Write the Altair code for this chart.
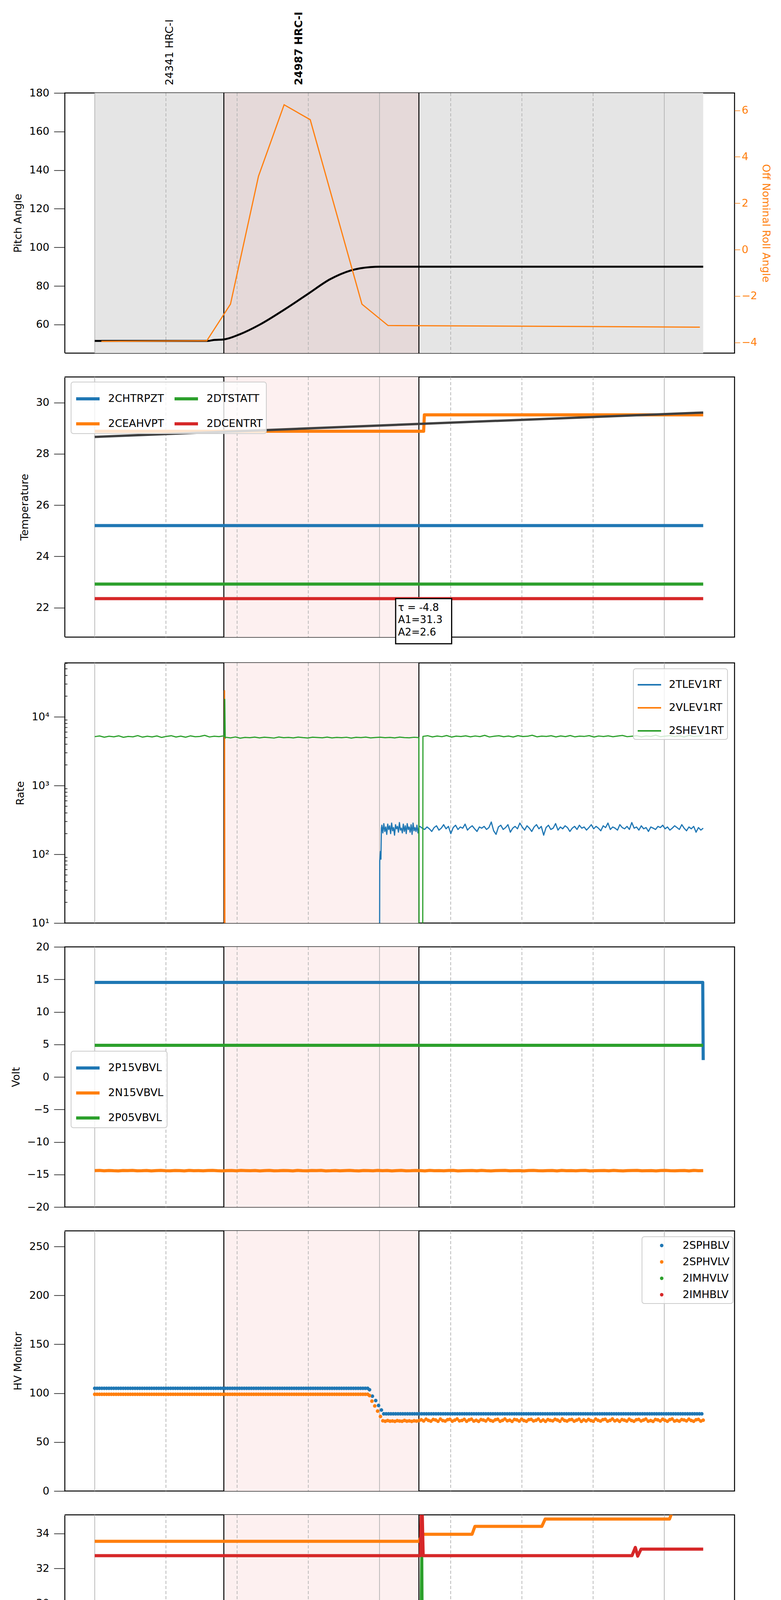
import altair as alt
import numpy as np
import pandas as pd

FONT = "DejaVu Sans"
BLUE, ORANGE, GREEN, RED = "#1f77b4", "#ff7f0e", "#2ca02c", "#d62728"
PANEL_W, PANEL_H = 1715, 666

# time in minutes after 2021-05-01 00:00
T_DOMAIN = [-6.3, 134.8]
T_END = 128.2
OBS_EDGES = [27.2, 68.3]
HOUR_TICKS = [0, 60, 120]
QUARTER_TICKS = [15, 30, 45, 75, 90, 105]
QUARTER_LABELS = ["15", "30", "45", "15", "30", "45"]

OBSIDS = ["24341 HRC-I", "24987 HRC-I"]
OBSID_T = [15.8, 43.1]

# ---- pitch / roll
PITCH_T = [0, 23.8, 25.0, 27.2, 30.6, 34.8, 40.1, 45.0, 49.6, 53.9, 58.1, 60.2, 128.2]
PITCH_V = [51.5, 51.5, 52.0, 52.3, 55.0, 60.0, 68.0, 76.0, 83.5, 88.0, 89.8, 90.0, 90.0]
ROLL_T = [1.4, 23.6, 28.6, 34.5, 39.9, 45.4, 56.3, 61.8, 127.5]
ROLL_V = [-3.95, -3.93, -2.35, 3.16, 6.24, 5.6, -2.35, -3.27, -3.34]

# ---- temperature
TEMP_NAMES = ["2CHTRPZT", "2CEAHVPT", "2DTSTATT", "2DCENTRT"]
TEMP_T = [[0, 128.2], [0, 69.3, 69.45, 128.2], [0, 128.2], [0, 128.2]]
TEMP_V = [[25.2, 25.2], [28.88, 28.88, 29.52, 29.52], [22.92, 22.92], [22.35, 22.35]]
FIT_T = [0, 128.2]
FIT_V = [28.66, 29.61]
FIT_TEXT = ["τ = -4.8", "A1=31.3", "A2=2.6"]

# ---- rates
RATE_NAMES = ["2TLEV1RT", "2VLEV1RT", "2SHEV1RT"]
SHEV_A = [5150, 5280, 5060, 5220, 5120, 5300, 5040, 5190, 5130, 5340, 5070, 5230, 5110, 5280,
          5020, 5200, 5320, 5090, 5240, 5060, 5290, 5140, 5190, 5380, 5100, 5230, 5160, 5290]
SHEV_SPIKE_T = [27.3, 27.4, 27.5]
SHEV_SPIKE_V = [5200, 18000, 4900]
SHEV_B = [5050, 4950, 5100, 4900, 5020, 4980, 5080, 4940, 5060, 5000, 4920, 5090, 4970, 5030,
          4950, 5070, 4990, 4930, 5060, 5010, 4960, 5080, 4940, 5020, 4980, 5050, 4910, 5040,
          4990, 5070, 4950, 5010, 5060, 4970, 5030, 4940, 5080, 5000, 4960, 5050, 4990]
SHEV_GAP_T = [68.35, 69.1]
SHEV_GAP_V = [1, 1]
SHEV_C = [5200, 5320, 5110, 5260, 5150, 5350, 5080, 5240, 5180, 5300, 5120, 5270, 5160, 5380,
          5100, 5230, 5310, 5140, 5260, 5090, 5330, 5170, 5220, 5400, 5130, 5250, 5190, 5310,
          5110, 5280, 5160, 5350, 5120, 5240, 5200, 5330, 5090, 5270, 5180, 5300, 5140, 5260,
          5370, 5150, 5230, 5310, 5120, 5280, 5190, 5420, 5140, 5250, 5330, 5170, 5290, 5110,
          5360, 5200, 5260, 5310]
VLEV_T = [0, 27.3, 27.35, 27.45, 128.2]
VLEV_V = [1, 1, 24000, 1, 1]
TLEV_START_T = [60.0, 60.05, 60.2, 60.3, 60.4]
TLEV_START_V = [1, 80, 110, 85, 240]
TLEV_DENSE = [265, 205, 280, 215, 250, 195, 275, 230, 260, 200, 285, 220, 245, 190, 270, 235,
              255, 210, 290, 225, 240, 205, 275, 215, 260, 200, 280, 230, 250, 210, 270, 195,
              285, 220, 245, 215, 265, 205, 250]
TLEV_LATE = [255, 240, 230, 250, 235, 215, 245, 260, 225, 240, 270, 235, 255, 200, 245, 265,
             230, 250, 240, 275, 225, 245, 260, 235, 215, 250, 240, 255, 230, 245, 295, 220,
             195, 250, 265, 230, 245, 270, 210, 240, 255, 235, 285, 250, 225, 260, 240, 215,
             250, 270, 235, 255, 190, 245, 265, 230, 240, 280, 225, 250, 235, 260, 245, 215,
             240, 255, 230, 265, 240, 250, 225, 245, 270, 235, 255, 240, 220, 260, 245, 285,
             230, 250, 240, 225, 270, 245, 235, 255, 230, 290, 240, 250, 225, 260, 235, 245,
             215, 250, 240, 230, 255, 245, 265, 235, 250, 225, 240, 260, 245, 230, 270, 240,
             220, 250, 235, 255, 210, 245, 225, 240]

# ---- voltages
VOLT_NAMES = ["2P15VBVL", "2N15VBVL", "2P05VBVL"]
P15_T = [0, 128.1, 128.2]
P15_V = [14.53, 14.53, 2.6]
P05_T = [0, 128.2]
P05_V = [4.87, 4.87]
N15_V = [-14.40, -14.37, -14.43, -14.38, -14.42, -14.44, -14.38, -14.40, -14.37, -14.43,
         -14.42, -14.38, -14.44, -14.40, -14.37, -14.42, -14.43, -14.38, -14.40, -14.44,
         -14.37, -14.42, -14.40, -14.43, -14.38, -14.37, -14.42, -14.44, -14.40, -14.38,
         -14.43, -14.37, -14.40, -14.42, -14.38, -14.44, -14.40, -14.37, -14.43, -14.42,
         -14.38, -14.40, -14.44, -14.37, -14.42, -14.43, -14.38, -14.40, -14.37, -14.44,
         -14.42, -14.38, -14.43, -14.40, -14.37, -14.42, -14.44, -14.38, -14.40, -14.43,
         -14.37, -14.42, -14.38, -14.44, -14.40, -14.37, -14.43, -14.42, -14.38, -14.40,
         -14.44, -14.37, -14.42, -14.40, -14.43, -14.38, -14.37, -14.44, -14.42, -14.40,
         -14.38, -14.43, -14.37, -14.42, -14.44, -14.40, -14.38, -14.37, -14.43, -14.42,
         -14.40, -14.44, -14.38, -14.37, -14.42, -14.43, -14.40, -14.38, -14.44, -14.37,
         -14.42, -14.40, -14.43, -14.38, -14.37, -14.44, -14.42, -14.40, -14.38, -14.43,
         -14.37, -14.42, -14.44, -14.40, -14.38, -14.37, -14.43, -14.42, -14.40, -14.44,
         -14.38, -14.37, -14.42, -14.43, -14.40, -14.38, -14.44, -14.37, -14.42, -14.40]

# ---- HV monitors (sampled every 30 s)
HV_NAMES = ["2SPHBLV", "2SPHVLV", "2IMHVLV", "2IMHBLV"]
HV_PRE_T = list(np.arange(0, 57.6, 0.5))
HV_POST_T = list(np.arange(60.9, 128.3, 0.5))
SPHBLV_PRE, SPHBLV_POST = 105.0, 78.9
SPHBLV_DROP_T = [57.9, 58.5, 59.2, 59.8, 60.4]
SPHBLV_DROP_V = [103.5, 97.0, 92.5, 87.5, 82.8]
SPHVLV_PRE = 98.9
SPHVLV_DROP_T = [57.9, 58.4, 59.0, 59.6, 60.2]
SPHVLV_DROP_V = [97.6, 91.9, 87.0, 81.7, 76.2]
SPHVLV_DENSE = [71.8, 71.3, 72.0, 71.4, 71.6, 71.2, 71.9, 71.5, 71.3, 72.1, 71.4, 71.7, 71.2,
                71.8, 71.5, 71.9]
SPHVLV_LATE = [72.8, 71.6, 73.4, 72.2, 71.4, 73.1, 72.6, 71.3, 73.5, 72.0, 71.5, 72.9, 73.3,
               71.4, 72.4, 73.6, 71.7, 72.1, 73.2, 71.3, 72.7, 73.4, 71.5, 72.3, 71.2, 73.0,
               72.5, 71.6, 73.5, 72.1, 71.4, 72.8, 73.3, 71.3, 72.2, 73.6, 71.8, 72.4, 71.2,
               73.1, 72.7, 71.5, 73.4, 72.0, 71.3, 72.9, 73.2, 71.6, 72.3, 73.5, 71.4, 72.6,
               71.2, 73.0, 72.2, 71.7, 73.3, 72.5, 71.3, 73.6, 72.1, 71.5, 72.8, 73.1, 71.4,
               72.4, 73.4, 71.2, 72.7, 71.6, 73.2, 72.0, 71.3, 73.5, 72.3, 71.5, 72.9, 73.3,
               71.4, 72.2, 73.6, 71.7, 72.6, 71.2, 73.0, 72.4, 71.5, 73.4, 72.1, 71.3, 72.8,
               73.2, 71.6, 72.5, 73.5, 71.4, 72.0, 71.2, 73.1, 72.7, 71.6, 73.3, 72.3, 71.3,
               72.9, 73.6, 71.5, 72.2, 71.4, 73.0, 72.6, 71.7, 73.4, 72.1, 71.3, 72.8, 73.2,
               71.5, 72.4]

# ---- detector temperatures
DET_NAMES = ["2SPINATM", "2SPHVATM", "2IMINATM", "2IMHVATM"]
SPINATM_T = [0, 48.4, 48.6, 48.8, 54.2, 54.4, 54.6, 56.0, 56.2, 56.4, 56.6, 56.8, 57.2, 57.4,
             58.9, 59.1, 59.4, 59.7, 60.0, 60.2, 60.5, 60.7, 60.9, 61.3, 61.5, 61.7, 62.2, 62.4,
             62.6, 63.0, 63.2, 63.6, 63.8, 64.0, 64.3, 64.6, 64.9, 65.2, 65.5, 66.0, 66.2, 66.4,
             66.7, 66.9, 67.1, 128.2]
SPINATM_V = [21.7, 21.7, 22.4, 21.7, 21.7, 22.4, 21.7, 21.7, 22.4, 21.7, 22.4, 21.7, 22.4, 21.7,
             21.7, 22.4, 21.7, 22.4, 21.7, 22.4, 22.4, 21.7, 22.4, 22.4, 21.7, 22.4, 22.4, 21.7,
             22.4, 21.7, 22.4, 22.4, 21.7, 22.4, 21.7, 22.4, 21.7, 22.4, 21.7, 21.7, 22.4, 21.7,
             22.4, 21.7, 22.4, 22.4]
SPHVATM_T = [0, 68.3, 69.0, 79.5, 80.1, 94.2, 94.9, 121.1, 121.9, 128.2]
SPHVATM_V = [33.55, 33.55, 33.95, 33.95, 34.4, 34.4, 34.82, 34.82, 35.4, 35.4]
IMINATM_T = [0, 0.3, 0.7, 1.1, 1.6, 2.3, 2.9, 65.5, 65.7, 65.9, 66.1, 66.4, 66.7, 67.0, 67.3,
             67.6, 67.9, 68.2, 68.5, 68.9, 69.1, 69.7, 70.2, 70.6, 70.9, 71.3, 71.8, 72.3, 73.7,
             74.1, 74.5, 77.5, 77.9, 78.3, 80.7, 81.1, 81.5, 128.2]
IMINATM_V = [23.15, 23.15, 22.4, 23.15, 23.15, 22.4, 23.15, 23.15, 22.4, 23.15, 22.4, 23.15,
             22.4, 23.15, 22.4, 23.15, 22.4, 23.15, 22.4, 32.6, 22.4, 22.4, 23.15, 22.4, 23.15,
             22.4, 23.15, 22.4, 22.4, 23.15, 22.4, 22.4, 23.15, 22.4, 22.4, 23.15, 22.4, 22.4]
IMHVATM_T = [0, 68.6, 68.9, 69.2, 113.2, 113.9, 114.4, 115.1, 128.2]
IMHVATM_V = [32.73, 32.73, 36.5, 32.73, 32.73, 33.2, 32.7, 33.1, 33.1]

# ---- FEA temperatures
FEA_NAMES = ["2FHTRMZT", "2FRADPYT", "2FEPRATM", "2FE00ATM"]
FHTRMZT_T = [0, 1.6, 1.9, 2.2, 35.9, 36.3, 128.2]
FHTRMZT_V = [25.2, 25.2, 24.6, 25.2, 25.2, 24.62, 24.62]
FRADPYT_T = [0, 45.0, 45.3, 69.6, 69.9, 128.2]
FRADPYT_V = [19.69, 19.69, 19.17, 19.17, 19.69, 19.69]
FEPRATM_T = [0, 68.9, 69.05, 69.2, 128.2]
FEPRATM_V = [26.16, 26.16, 28.5, 26.16, 26.16]
FE00ATM_T = [0, 63.7, 63.9, 64.1, 68.6, 68.85, 69.1, 75.3, 75.7, 76.1, 91.6, 92.1, 92.6, 93.7,
             94.2, 94.7, 95.2, 96.9, 97.5, 98.1, 128.2]
FE00ATM_V = [24.28, 24.28, 24.65, 24.28, 24.28, 28.5, 24.28, 24.28, 24.99, 24.28, 24.28, 23.95,
             24.28, 24.28, 23.95, 24.28, 23.95, 23.95, 24.28, 23.95, 23.95]

TAB4 = [BLUE, ORANGE, GREEN, RED]
x_scale = alt.Scale(domain=T_DOMAIN, nice=False, zero=False)


def series_df(names, ts, vs):
    rows = []
    for name, t, v in zip(names, ts, vs):
        rows += [{"t": float(a), "v": float(b), "name": name} for a, b in zip(t, v)]
    return pd.DataFrame(rows)


def spread(t0, t1, values):
    return list(np.linspace(t0, t1, len(values)))


def xenc(field="t", axis=None):
    return alt.X(f"{field}:Q", scale=x_scale, axis=axis, title=None)


def y_axis(values, title, edges=(), **kw):
    opts = dict(values=values, title=title, grid=False, domain=False, tickSize=28, tickWidth=1.5,
                tickColor="black", labelFontSize=27, labelPadding=12, labelColor="black",
                titleFontSize=27, titleFontWeight="normal", titlePadding=14, titleColor="black")
    if edges:
        # blank ticks at the panel edges so every panel reserves the same room around it
        test = " || ".join(f"datum.value == {e}" for e in edges)
        hide = {"condition": {"test": test, "value": "white"}, "value": "black"}
        opts.update(values=values + list(edges), labelColor=hide, tickColor=hide)
    opts.update(kw)
    return alt.Axis(**opts)


def hour_axis(labels=False):
    opts = dict(values=HOUR_TICKS, orient="bottom", domain=False, grid=False, tickSize=29,
                tickWidth=2, tickColor="black", labels=labels)
    if labels:
        opts.update(labelExpr="'0' + (datum.value / 60) + 'h'", labelFontSize=27,
                    labelPadding=5, labelColor="black", title="2021-05-01 (121)",
                    titleFontSize=31, titleFontWeight="normal", titlePadding=6,
                    titleColor="black")
    return alt.Axis(**opts)


def legend(x, y, kind="stroke", columns=1, stroke_w=8):
    opts = dict(orient="none", legendX=x, legendY=y, title=None, labelFontSize=27,
                labelColor="black", labelFont=FONT, fillColor="rgba(255,255,255,0.8)",
                strokeColor="#cccccc", cornerRadius=6, padding=9,
                rowPadding=14, columns=columns)
    if kind == "stroke":
        opts.update(symbolType="stroke", symbolSize=3600, symbolStrokeWidth=stroke_w,
                    labelOffset=18)
    else:
        opts.update(symbolType="circle", symbolSize=80, symbolStrokeWidth=0,
                    symbolOffset=28, labelOffset=40)
    return alt.Legend(**opts)


def backdrop(shade, x_axis=None, gray=False):
    layers = []
    if gray:
        layers.append(alt.Chart(pd.DataFrame({"a": [0.0], "b": [T_END]}))
                      .mark_rect(color="#e5e5e5").encode(x=xenc("a"), x2="b:Q"))
    layers.append(alt.Chart(pd.DataFrame({"a": [OBS_EDGES[0]], "b": [OBS_EDGES[1]]}))
                  .mark_rect(color=shade).encode(x=xenc("a"), x2="b:Q"))
    layers.append(alt.Chart(pd.DataFrame({"t": QUARTER_TICKS}))
                  .mark_rule(color="#b3b3b3", strokeWidth=1.8, strokeDash=[8, 5])
                  .encode(x=xenc("t")))
    layers.append(alt.Chart(pd.DataFrame({"t": HOUR_TICKS}))
                  .mark_rule(color="#b3b3b3", strokeWidth=1.8)
                  .encode(x=xenc("t", x_axis)))
    layers.append(alt.Chart(pd.DataFrame({"t": OBS_EDGES}))
                  .mark_rule(color="black", strokeWidth=2.5).encode(x=xenc("t")))
    return layers


def lines(df, names, y_scale, axis, leg, width=8, colors=TAB4):
    return alt.Chart(df).mark_line(strokeWidth=width, clip=True, strokeJoin="round").encode(
        x=xenc(),
        y=alt.Y("v:Q", scale=y_scale, axis=axis),
        color=alt.Color("name:N", scale=alt.Scale(domain=names, range=colors), legend=leg),
        detail="name:N",
    )


PINK = "#fdf0f0"

# ---- panel 1
pitch_scale = alt.Scale(domain=[45.2, 180], nice=False, zero=False)
pitch = alt.Chart(pd.DataFrame({"t": PITCH_T, "v": PITCH_V})).mark_line(
    color="black", strokeWidth=5, interpolate="monotone").encode(
    x=xenc(),
    y=alt.Y("v:Q", scale=pitch_scale,
            axis=y_axis([60, 80, 100, 120, 140, 160, 180], "Pitch Angle", edges=(45.2,),
                        format=".0f")))
roll = alt.Chart(pd.DataFrame({"t": ROLL_T, "v": ROLL_V})).mark_line(
    color=ORANGE, strokeWidth=3).encode(
    x=xenc(),
    y=alt.Y("v:Q", scale=alt.Scale(domain=[-4.46, 6.75], nice=False, zero=False),
            axis=y_axis([-4, -2, 0, 2, 4, 6], "Off Nominal Roll Angle", orient="right",
                        tickSize=14, labelPadding=4, titlePadding=8, tickColor=ORANGE,
                        labelColor=ORANGE, titleColor=ORANGE)))
# obsid labels sit just above the top of the pitch axis
obs_plain = alt.Chart(pd.DataFrame({"t": [OBSID_T[0]], "v": [184.0], "label": [OBSIDS[0]]})).mark_text(
    angle=270, align="left", baseline="middle", fontSize=27).encode(
    x=xenc(), y=alt.Y("v:Q", scale=pitch_scale, axis=None), text="label:N")
obs_bold = alt.Chart(pd.DataFrame({"t": [OBSID_T[1]], "v": [184.0], "label": [OBSIDS[1]]})).mark_text(
    angle=270, align="left", baseline="middle", fontSize=27, fontWeight="bold").encode(
    x=xenc(), y=alt.Y("v:Q", scale=pitch_scale, axis=None), text="label:N")
p1 = alt.layer(*backdrop("#e5d9d9", gray=True), pitch, obs_plain, obs_bold, roll).resolve_scale(
    y="independent").properties(width=PANEL_W, height=PANEL_H)

# ---- panel 2
temp_scale = alt.Scale(domain=[20.85, 31.0], nice=False, zero=False)
temp_axis = y_axis([22, 24, 26, 28, 30], "Temperature", edges=(31, 20.85), format=".0f")
temp_df = series_df(TEMP_NAMES, TEMP_T, TEMP_V)
temp_lines = lines(temp_df, TEMP_NAMES, temp_scale, temp_axis, legend(16, 13, columns=2))
fit = alt.Chart(pd.DataFrame({"t": FIT_T, "v": FIT_V})).mark_line(
    color="#3f3f3f", strokeWidth=6).encode(x=xenc(), y=alt.Y("v:Q", scale=temp_scale, axis=temp_axis))
box = alt.Chart(pd.DataFrame({"a": [63.4], "b": [75.2], "v": [22.35], "bot": [20.59]})).mark_rect(
    fill="white", stroke="black", strokeWidth=3).encode(
    x=xenc("a"), x2="b:Q", y=alt.Y("v:Q", scale=temp_scale, axis=temp_axis), y2="bot:Q")
box_text = alt.Chart(pd.DataFrame({"t": [63.9] * 3, "v": [22.0, 21.52, 21.04],
                                   "label": FIT_TEXT})).mark_text(
    align="left", baseline="middle", fontSize=26).encode(
    x=xenc(), y=alt.Y("v:Q", scale=temp_scale, axis=temp_axis), text="label:N")
p2 = alt.layer(*backdrop(PINK, hour_axis()), temp_lines, fit, box, box_text).properties(
    width=PANEL_W, height=PANEL_H)

# ---- panel 3
rate_scale = alt.Scale(type="log", domain=[10, 61000], nice=False)
rate_axis = y_axis([10, 100, 1000, 10000], "Rate", edges=(61000,),
                   labelExpr="datum.value == 10 ? '10¹' : datum.value == 100 ? '10²' : "
                             "datum.value == 1000 ? '10³' : '10⁴'")
tlev_t = TLEV_START_T + spread(60.5, 68.3, TLEV_DENSE) + spread(68.5, 128.2, TLEV_LATE)
tlev_v = TLEV_START_V + TLEV_DENSE + TLEV_LATE
shev_t = (spread(0, 27.2, SHEV_A) + SHEV_SPIKE_T + spread(27.6, 68.3, SHEV_B) + SHEV_GAP_T
          + spread(69.15, 128.2, SHEV_C))
shev_v = SHEV_A + SHEV_SPIKE_V + SHEV_B + SHEV_GAP_V + SHEV_C
rate_df = series_df(RATE_NAMES, [tlev_t, VLEV_T, shev_t], [tlev_v, VLEV_V, shev_v])
rate_lines = lines(rate_df, RATE_NAMES, rate_scale, rate_axis,
                   legend(1456, 15, stroke_w=4), width=3, colors=[BLUE, ORANGE, GREEN])
RATE_MINOR = [m * 10 ** e for e in range(1, 5) for m in range(2, 10) if m * 10 ** e < 61000]
rate_minor = alt.Chart(pd.DataFrame({"v": RATE_MINOR, "a": [T_DOMAIN[0]] * len(RATE_MINOR),
                                     "b": [T_DOMAIN[0] + 0.55] * len(RATE_MINOR)})).mark_rule(
    color="black", strokeWidth=1.5).encode(
    y=alt.Y("v:Q", scale=rate_scale, axis=rate_axis), x=xenc("a"), x2="b:Q")
p3 = alt.layer(*backdrop(PINK, hour_axis()), rate_lines, rate_minor).properties(
    width=PANEL_W, height=PANEL_H)

# ---- panel 4
volt_scale = alt.Scale(domain=[-20, 20], nice=False, zero=False)
volt_df = series_df(VOLT_NAMES, [P15_T, spread(0, 128.2, N15_V), P05_T], [P15_V, N15_V, P05_V])
volt_lines = lines(volt_df, VOLT_NAMES, volt_scale,
                   y_axis([-20, -15, -10, -5, 0, 5, 10, 15, 20], "Volt", format=".0f"),
                   legend(16, 267), colors=[BLUE, ORANGE, GREEN])
p4 = alt.layer(*backdrop(PINK, hour_axis()), volt_lines).properties(
    width=PANEL_W, height=PANEL_H)

# ---- panel 5
hv_scale = alt.Scale(domain=[0, 266], nice=False, zero=False)
sphblv_t = HV_PRE_T + SPHBLV_DROP_T + HV_POST_T
sphblv_v = [SPHBLV_PRE] * len(HV_PRE_T) + SPHBLV_DROP_V + [SPHBLV_POST] * len(HV_POST_T)
sphvlv_t = HV_PRE_T + SPHVLV_DROP_T + spread(60.7, 68.3, SPHVLV_DENSE) + spread(68.8, 128.2, SPHVLV_LATE)
sphvlv_v = [SPHVLV_PRE] * len(HV_PRE_T) + SPHVLV_DROP_V + SPHVLV_DENSE + SPHVLV_LATE
hv_df = series_df(HV_NAMES[:2], [sphblv_t, sphvlv_t], [sphblv_v, sphvlv_v])
hv_points = alt.Chart(hv_df).mark_circle(size=85, opacity=1).encode(
    x=xenc(),
    y=alt.Y("v:Q", scale=hv_scale,
            axis=y_axis([0, 50, 100, 150, 200, 250], "HV Monitor", edges=(266,), format=".0f")),
    color=alt.Color("name:N", scale=alt.Scale(domain=HV_NAMES, range=TAB4),
                    legend=legend(1478, 15, kind="circle")))
p5 = alt.layer(*backdrop(PINK, hour_axis()), hv_points).properties(
    width=PANEL_W, height=PANEL_H)

# ---- panel 6
det_scale = alt.Scale(domain=[20.2, 35.06], nice=False, zero=False)
det_df = series_df(DET_NAMES, [SPINATM_T, SPHVATM_T, IMINATM_T, IMHVATM_T],
                   [SPINATM_V, SPHVATM_V, IMINATM_V, IMHVATM_V])
det_lines = lines(det_df, DET_NAMES, det_scale,
                  y_axis([22, 24, 26, 28, 30, 32, 34], "Detector Temp", edges=(35.06, 20.2),
                         format=".0f"),
                  legend(1452, 245))
p6 = alt.layer(*backdrop(PINK, hour_axis()), det_lines).properties(
    width=PANEL_W, height=PANEL_H)

# ---- panel 7
fea_scale = alt.Scale(domain=[18.18, 27.65], nice=False, zero=False)
fea_axis = y_axis([20, 22, 24, 26], "FEA Temp", edges=(27.65, 18.18), format=".0f")
fea_df = series_df(FEA_NAMES, [FHTRMZT_T, FRADPYT_T, FEPRATM_T, FE00ATM_T],
                   [FHTRMZT_V, FRADPYT_V, FEPRATM_V, FE00ATM_V])
fea_lines = lines(fea_df, FEA_NAMES, fea_scale, fea_axis, legend(16, 245))
# quarter-hour labels just under the bottom of the axis
quarter_text = alt.Chart(pd.DataFrame({"t": QUARTER_TICKS, "v": [18.11] * len(QUARTER_TICKS),
                                       "label": QUARTER_LABELS})).mark_text(
    baseline="top", fontSize=20).encode(
    x=xenc(), y=alt.Y("v:Q", scale=fea_scale, axis=fea_axis), text="label:N")
p7 = alt.layer(*backdrop(PINK, hour_axis(labels=True)), fea_lines, quarter_text).properties(
    width=PANEL_W, height=PANEL_H)

chart = alt.vconcat(p1, p2, p3, p4, p5, p6, p7, spacing=30).resolve_scale(
    color="independent").properties(
    padding={"left": 17, "top": 20, "right": 0, "bottom": 0}, background="white"
).configure_view(stroke="black", strokeWidth=2.5).configure_axis(
    labelFont=FONT, titleFont=FONT).configure_legend(
    labelFont=FONT, strokeWidth=2).configure_text(font=FONT)

chart.save("out.html", embed_options={"renderer": "svg", "actions": False})
